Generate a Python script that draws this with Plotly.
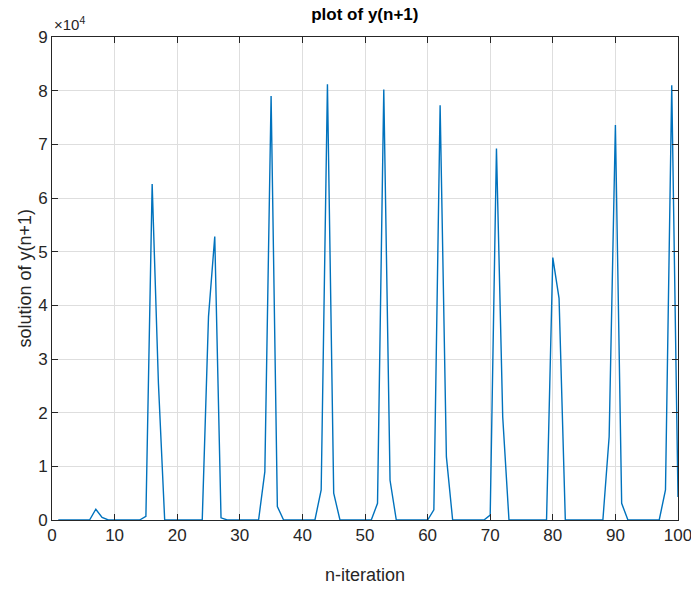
import plotly.graph_objects as go

# Data
iterations = list(range(1, 101))
y_values = [
    0, 0, 0, 0, 0, 0, 2000, 500, 0, 0,
    0, 0, 0, 0, 700, 62600, 25500, 0, 0, 0,
    0, 0, 0, 0, 37900, 52800, 400, 0, 0, 0,
    0, 0, 0, 9000, 79000, 2500, 0, 0, 0, 0,
    0, 0, 5600, 81200, 5000, 0, 0, 0, 0, 0,
    0, 3100, 80200, 7400, 0, 0, 0, 0, 0, 0,
    1900, 77300, 11800, 0, 0, 0, 0, 0, 0, 900,
    69200, 19200, 0, 0, 0, 0, 0, 0, 0, 48900,
    41300, 0, 0, 0, 0, 0, 0, 0, 15500, 73600,
    3100, 0, 0, 0, 0, 0, 0, 5600, 81000, 4300,
]
x_ticks = [0, 10, 20, 30, 40, 50, 60, 70, 80, 90, 100]
y_ticks = [0, 10000, 20000, 30000, 40000, 50000, 60000, 70000, 80000, 90000]
y_tick_labels = ["0", "1", "2", "3", "4", "5", "6", "7", "8", "9"]

FONT = "Liberation Sans Narrow, Liberation Sans, Arial, sans-serif"
AXIS_COLOR = "#262626"
GRID_COLOR = "#dedede"

fig = go.Figure()
fig.add_trace(go.Scatter(
    x=iterations, y=y_values, mode="lines",
    line=dict(color="#0072BD", width=1.4),
    showlegend=False,
))

fig.update_layout(
    width=691, height=590,
    paper_bgcolor="white", plot_bgcolor="white",
    margin=dict(l=52, r=13, t=37, b=70, autoexpand=False),
    font=dict(family=FONT, size=17, color=AXIS_COLOR),
    title=dict(text="<b>plot of y(n+1)</b>", x=0.528, xanchor="center",
               y=0.976, yanchor="middle",
               font=dict(family=FONT, size=17, color="#000000")),
    xaxis=dict(
        range=[0, 100], tickvals=x_ticks, ticktext=[str(v) for v in x_ticks],
        showgrid=True, gridcolor=GRID_COLOR, gridwidth=1,
        showline=True, linecolor=AXIS_COLOR, linewidth=1, mirror="ticks",
        ticks="inside", ticklen=6, tickcolor=AXIS_COLOR,
        zeroline=False, automargin=False, ticklabeloverflow="allow",
    ),
    yaxis=dict(
        range=[0, 90000], tickvals=y_ticks, ticktext=y_tick_labels,
        showgrid=True, gridcolor=GRID_COLOR, gridwidth=1,
        showline=True, linecolor=AXIS_COLOR, linewidth=1, mirror="ticks",
        ticks="inside", ticklen=6, tickcolor=AXIS_COLOR,
        zeroline=False, automargin=False, ticklabeloverflow="allow",
    ),
    annotations=[
        dict(text="×10<sup>4</sup>", xref="paper", yref="paper",
             x=0.0, y=1.0, xanchor="left", yanchor="bottom", yshift=2,
             showarrow=False, font=dict(family=FONT, size=15, color=AXIS_COLOR)),
        dict(text="n-iteration", xref="paper", yref="paper",
             x=0.5, y=0, xanchor="center", yanchor="middle", yshift=-55,
             showarrow=False, font=dict(family=FONT, size=18, color=AXIS_COLOR)),
        dict(text="solution of y(n+1)", xref="paper", yref="paper",
             x=0, y=0.5, xanchor="center", yanchor="middle", xshift=-28,
             textangle=-90,
             showarrow=False, font=dict(family=FONT, size=18, color=AXIS_COLOR)),
    ],
)

# remove the page's default 8px body margin so the figure fills the window
fig.write_html(
    "out.html",
    config={"displayModeBar": False},
    post_script="document.body.style.margin='0';document.body.style.overflow='hidden';",
)
